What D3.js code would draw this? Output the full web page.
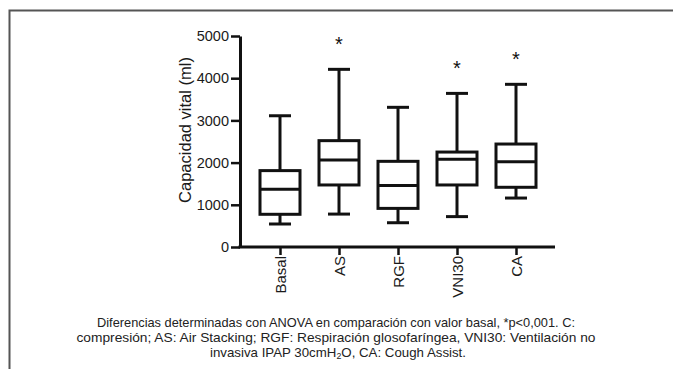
<!DOCTYPE html>
<html><head><meta charset="utf-8">
<script src="https://cdn.jsdelivr.net/npm/d3@7"></script>
<style>
html,body{margin:0;padding:0;background:#fff;}
svg{display:block;font-family:"Liberation Sans",Arial,Helvetica,sans-serif;}
</style></head>
<body>
<svg id="c" width="673" height="369"></svg>
<script>
const categories = ["Basal","AS","RGF","VNI30","CA"];
const mins    = [545, 780, 575, 720, 1160];
const q1s     = [775, 1470, 915, 1470, 1415];
const medians = [1370, 2060, 1460, 2080, 2020];
const q3s     = [1810, 2520, 2030, 2250, 2440];
const maxs    = [3110, 4210, 3310, 3640, 3855];
const significant = [false, true, false, true, true];
const yTicks = [0,1000,2000,3000,4000,5000];
const captionLines = [
  "Diferencias determinadas con ANOVA en comparación con valor basal, *p<0,001. C:",
  "compresión; AS: Air Stacking; RGF: Respiración glosofaríngea, VNI30: Ventilación no"
];

const svg = d3.select("#c");
const ink = "#111";

// outer frame
svg.append("path").attr("d","M9.5,369 V10.5 H673").attr("fill","none")
  .attr("stroke","#555").attr("stroke-width",2);

const y = d3.scaleLinear().domain([0,5000]).range([247,36]);
const x = d3.scalePoint().domain(categories).range([280,516]);
const axisX0 = 240, axisX1 = 555;

// y axis
const gy = svg.append("g").attr("transform",`translate(${axisX0},0)`)
  .call(d3.axisLeft(y).tickValues(yTicks).tickFormat(d3.format("d")).tickSize(9).tickSizeOuter(0).tickPadding(2));
gy.select(".domain").attr("stroke",ink).attr("stroke-width",3);
gy.selectAll(".tick line").attr("stroke",ink).attr("stroke-width",2.5);
gy.selectAll(".tick text").attr("fill","#1a1a1a").attr("font-size",14.5).attr("font-family","Liberation Sans, Arial, sans-serif");

// x axis
const gx = svg.append("g").attr("transform",`translate(0,${y(0)})`);
gx.append("line").attr("x1",axisX0-1.5).attr("x2",axisX1).attr("stroke",ink).attr("stroke-width",3);
const gxa = gx.append("g").call(d3.axisBottom(x).tickSize(8).tickSizeOuter(0));
gxa.select(".domain").remove();
gxa.selectAll(".tick line").attr("stroke",ink).attr("stroke-width",2.5);
gxa.selectAll(".tick text")
  .attr("fill","#1a1a1a").attr("font-size",15).attr("font-family","Liberation Sans, Arial, sans-serif")
  .attr("transform","rotate(-90)").attr("text-anchor","end")
  .attr("x",-9).attr("y",0).attr("dy","0.35em");

// y label
svg.append("text").attr("transform","translate(191,130) rotate(-90)")
  .attr("text-anchor","middle").attr("font-size",16.5).attr("fill","#1a1a1a")
  .text("Capacidad vital (ml)");

// boxes
const bw = 40, cw = 22;
const data = categories.map((c,i)=>({c,min:mins[i],q1:q1s[i],med:medians[i],q3:q3s[i],max:maxs[i],sig:significant[i]}));
const g = svg.append("g").attr("stroke",ink).attr("stroke-width",3).attr("fill","none");
data.forEach(d=>{
  const cx = x(d.c);
  g.append("line").attr("x1",cx).attr("x2",cx).attr("y1",y(d.max)).attr("y2",y(d.q3));
  g.append("line").attr("x1",cx).attr("x2",cx).attr("y1",y(d.q1)).attr("y2",y(d.min));
  g.append("line").attr("x1",cx-cw/2).attr("x2",cx+cw/2).attr("y1",y(d.max)).attr("y2",y(d.max));
  g.append("line").attr("x1",cx-cw/2).attr("x2",cx+cw/2).attr("y1",y(d.min)).attr("y2",y(d.min));
  g.append("rect").attr("x",cx-bw/2).attr("width",bw).attr("y",y(d.q3)).attr("height",y(d.q1)-y(d.q3));
  g.append("line").attr("x1",cx-bw/2).attr("x2",cx+bw/2).attr("y1",y(d.med)).attr("y2",y(d.med));
  if(d.sig){
    svg.append("text").attr("x",cx).attr("y",y(d.max)-18).attr("text-anchor","middle")
      .attr("font-size",20).attr("fill",ink).text("*");
  }
});

// caption
const capLens = [478, 519];
const cap = svg.append("g").attr("font-size",12.8).attr("fill","#222").attr("text-anchor","middle");
captionLines.forEach((t,i)=>{
  cap.append("text").attr("x",336).attr("y",327+i*15)
    .attr("textLength",capLens[i]).attr("lengthAdjust","spacingAndGlyphs").text(t);
});
const l3 = cap.append("text").attr("x",338).attr("y",357)
  .attr("textLength",256).attr("lengthAdjust","spacingAndGlyphs");
l3.append("tspan").text("invasiva IPAP 30cmH");
l3.append("tspan").attr("font-size",8.5).attr("dy",1.5).text("2");
l3.append("tspan").attr("dy",-1.5).text("O, CA: Cough Assist.");
</script>
</body></html>
